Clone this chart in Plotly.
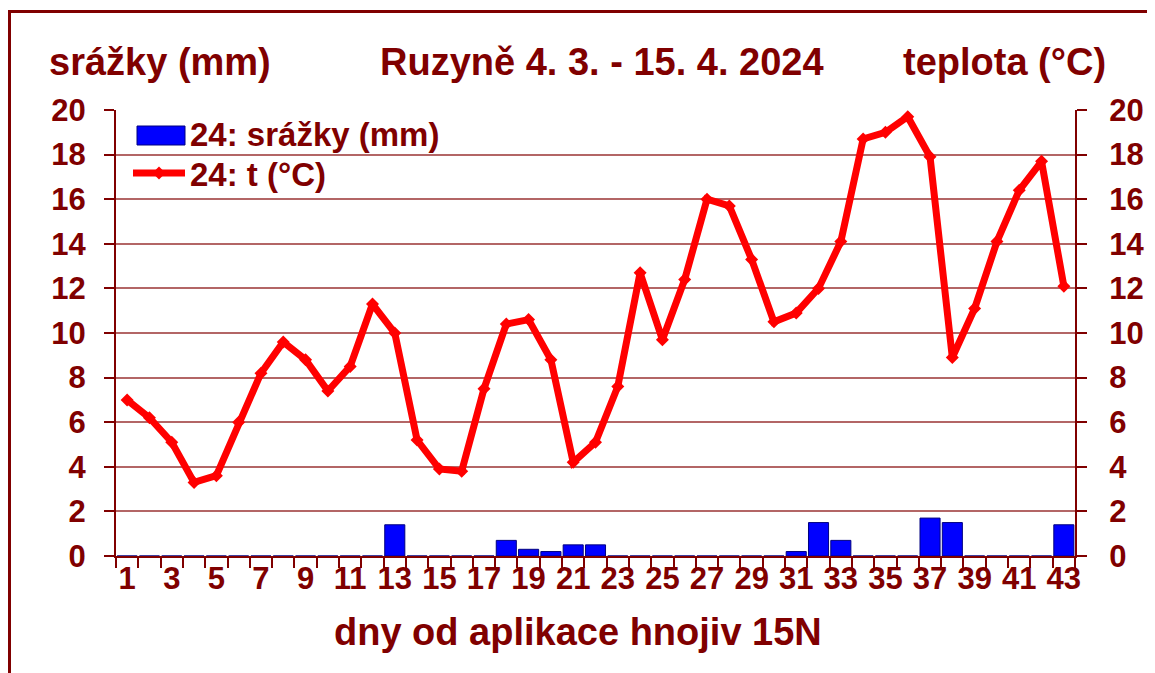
import plotly.graph_objects as go

days = [1, 2, 3, 4, 5, 6, 7, 8, 9, 10, 11, 12, 13, 14, 15, 16, 17, 18, 19, 20, 21, 22,
        23, 24, 25, 26, 27, 28, 29, 30, 31, 32, 33, 34, 35, 36, 37, 38, 39, 40, 41, 42, 43]
srazky = [0, 0, 0, 0, 0, 0, 0, 0, 0, 0, 0, 0, 1.4, 0, 0, 0, 0, 0.7, 0.3, 0.2, 0.5, 0.5,
          0, 0, 0, 0, 0, 0, 0, 0, 0.2, 1.5, 0.7, 0, 0, 0, 1.7, 1.5, 0, 0, 0, 0, 1.4]
teplota = [7.0, 6.2, 5.1, 3.3, 3.6, 6.0, 8.2, 9.6, 8.8, 7.4, 8.5, 11.3, 10.0, 5.2, 3.9, 3.8,
           7.5, 10.4, 10.6, 8.8, 4.2, 5.1, 7.6, 12.7, 9.7, 12.4, 16.0, 15.7, 13.3, 10.5, 10.9,
           12.0, 14.1, 18.7, 19.0, 19.7, 17.9, 8.9, 11.1, 14.1, 16.4, 17.7, 12.1]
x_ticks = [1, 3, 5, 7, 9, 11, 13, 15, 17, 19, 21, 23, 25, 27, 29, 31, 33, 35, 37, 39, 41, 43]
y_ticks = [0, 2, 4, 6, 8, 10, 12, 14, 16, 18, 20]

MAROON = "#800000"
GRID = "rgba(128,0,0,0.6)"
FONT = "Liberation Sans"

OFF = 8  # page body margin offset
W, H = 1155 - OFF, 673 - OFF
# target plot-area edges in screenshot pixels
SL, SR, ST, SB = 116, 1075, 110, 556
L, R, T, B = SL - OFF, SR - OFF, ST - OFF, SB - OFF

fig = go.Figure()
fig.add_trace(go.Bar(
    x=days, y=srazky, name="24: srážky (mm)", showlegend=False,
    marker=dict(color="#0000FF", line=dict(color="#000080", width=1)),
    yaxis="y",
))
fig.add_trace(go.Scatter(
    x=days, y=teplota, name="24: t (°C)", mode="lines+markers",
    line=dict(color="#FF0000", width=7),
    marker=dict(symbol="diamond", size=10, color="#FF0000"),
    yaxis="y2",
))

pw, ph = R - L, B - T
def px(xs):
    return (xs - SL) / pw
def py(ys):
    return (SB - ys) / ph

tickfont = dict(family=FONT, size=31, color=MAROON, weight="bold")
legfont = dict(family=FONT, size=33, color=MAROON, weight="bold")
fig.update_layout(
    width=W, height=H,
    margin=dict(l=L, r=W - R, t=T, b=H - B, pad=0),
    paper_bgcolor="white", plot_bgcolor="white",
    bargap=0.1,
    showlegend=True,
    legend=dict(x=px(128), y=py(173), xanchor="left", yanchor="middle",
                font=legfont, bgcolor="rgba(0,0,0,0)", itemwidth=52),
    xaxis=dict(range=[0.5, 43.5], tickmode="array", tickvals=x_ticks,
               ticks="", ticklen=0, showgrid=False, zeroline=False,
               showline=True, linecolor=MAROON, linewidth=2,
               tickfont=tickfont, ticklabelstandoff=-6,
               minor=dict(tickmode="linear", tick0=0.5, dtick=1, ticks="outside",
                          ticklen=10, tickcolor=MAROON, tickwidth=2, showgrid=False)),
    yaxis=dict(range=[0, 20], tickmode="array", tickvals=y_ticks,
               ticks="outside", ticklen=10, tickcolor=MAROON, tickwidth=2,
               showgrid=True, gridcolor=GRID, gridwidth=2, zeroline=False,
               showline=True, linecolor=MAROON, linewidth=2,
               tickfont=tickfont, ticklabelstandoff=12),
    yaxis2=dict(range=[0, 20], tickmode="array", tickvals=y_ticks, overlaying="y",
                side="right", ticks="outside", ticklen=10, tickcolor=MAROON, tickwidth=2,
                showgrid=False, zeroline=False,
                showline=True, linecolor=MAROON, linewidth=2,
                tickfont=tickfont, ticklabelstandoff=16),
    yaxis3=dict(range=[0, 20], tickmode="array", tickvals=y_ticks, overlaying="y",
                side="right", anchor="x", ticks="inside", ticklen=10, tickcolor=MAROON,
                tickwidth=2, showgrid=False, zeroline=False, showline=False,
                showticklabels=False),
)

titlefont = dict(family=FONT, size=38, color=MAROON, weight="bold")
fig.add_annotation(text="srážky (mm)", x=px(47), y=py(62), xref="paper", yref="paper",
                   xanchor="left", yanchor="middle", showarrow=False, font=titlefont)
fig.add_annotation(text="Ruzyně 4. 3. - 15. 4. 2024", x=px(602), y=py(62), xref="paper",
                   yref="paper", xanchor="center", yanchor="middle", showarrow=False,
                   font=titlefont)
fig.add_annotation(text="teplota (°C)", x=px(1108), y=py(62), xref="paper", yref="paper",
                   xanchor="right", yanchor="middle", showarrow=False, font=titlefont)
fig.add_annotation(text="dny od aplikace hnojiv 15N", x=px(578), y=py(632), xref="paper",
                   yref="paper", xanchor="center", yanchor="middle", showarrow=False,
                   font=titlefont)

# legend entry for the precipitation bars
fig.add_shape(type="rect", xref="paper", yref="paper",
              x0=px(137), x1=px(185), y0=py(126), y1=py(145),
              line=dict(color="#000080", width=1), fillcolor="#0000FF", layer="above")
fig.add_annotation(text="24: srážky (mm)", x=px(188), y=py(134), xref="paper", yref="paper",
                   xanchor="left", yanchor="middle", showarrow=False, font=legfont)

# outer frame (left and top edges visible)
fig.add_shape(type="line", xref="paper", yref="paper",
              x0=px(9.5), x1=px(9.5), y0=py(10), y1=py(700),
              line=dict(color=MAROON, width=3), layer="below")
fig.add_shape(type="line", xref="paper", yref="paper",
              x0=px(8), x1=px(1200), y0=py(11.5), y1=py(11.5),
              line=dict(color=MAROON, width=3), layer="below")

fig.write_html("out.html")
